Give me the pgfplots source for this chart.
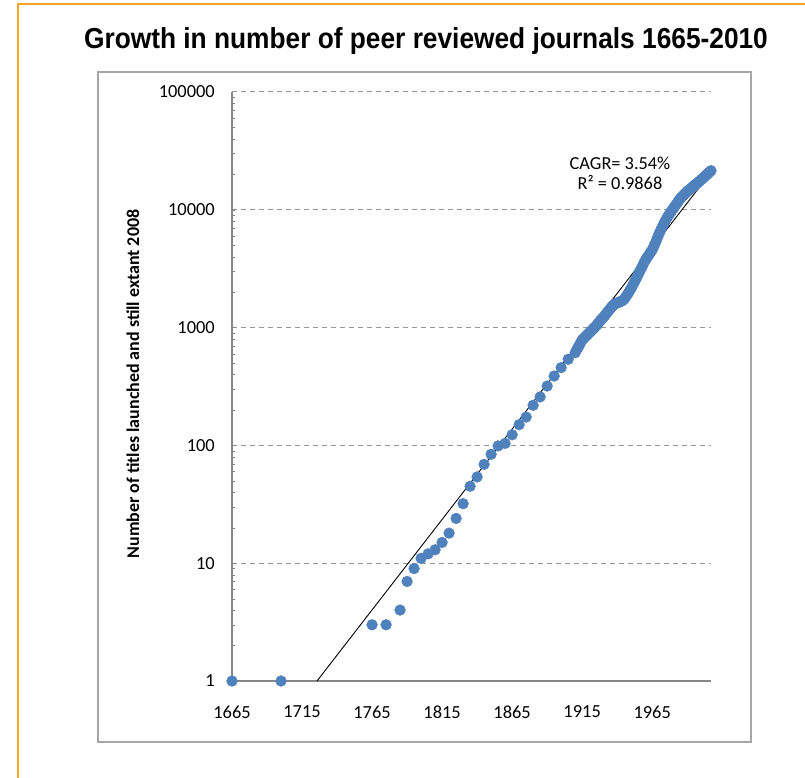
\documentclass[border=0pt]{standalone}
\usepackage{pgfplots}
\pgfplotsset{compat=1.18}
\usepackage{fontspec}
\setmainfont{Carlito}
\newfontfamily\titlefont{Liberation Sans}
\definecolor{excelblue}{RGB}{79,129,189}
\definecolor{framegray}{RGB}{166,166,166}
\definecolor{axisgray}{RGB}{134,134,134}
\definecolor{gridgray}{RGB}{150,150,150}
\definecolor{orangeframe}{RGB}{250,165,30}
\pgfplotstableread{
year n
1665 1
1700 1
1765 3
1775 3
1785 4
1790 7
1795 9
1800 11
1805 12
1810 13
1815 15
1820 18
1825 24
1830 32
1835 45
1840 54
1845 69
1850 84
1855 99
1860 104
1865 123
1870 150
1875 174
1880 219
1885 258
1890 319
1895 388
1900 457
1905 538
1910 612
1911 643
1912 676
1913 711
1914 748
1915 785
1916 807
1917 830
1918 853
1919 877
1920 902
1921 927
1922 953
1923 980
1924 1007
1925 1035
1926 1072
1927 1109
1928 1148
1929 1183
1930 1216
1931 1259
1932 1303
1933 1349
1934 1396
1935 1445
1936 1496
1937 1538
1938 1574
1939 1603
1940 1622
1941 1637
1942 1652
1943 1675
1944 1706
1945 1746
1946 1811
1947 1888
1948 1972
1949 2065
1950 2163
1951 2275
1952 2399
1953 2529
1954 2667
1955 2818
1956 2979
1957 3148
1958 3327
1959 3516
1960 3715
1961 3873
1962 4036
1963 4207
1964 4385
1965 4571
1966 4842
1967 5152
1968 5495
1969 5888
1970 6310
1971 6683
1972 7079
1973 7499
1974 7907
1975 8318
1976 8710
1977 9078
1978 9462
1979 9840
1980 10233
1981 10641
1982 11066
1983 11508
1984 11967
1985 12445
1986 12794
1987 13152
1988 13521
1989 13900
1990 14289
1991 14622
1992 14962
1993 15311
1994 15668
1995 16032
1996 16406
1997 16788
1998 17179
1999 17579
2000 17989
2001 18450
2002 18923
2003 19409
2004 19907
2005 20417
2006 20941
2007 21478
}\journals
\begin{document}
\begin{tikzpicture}[x=1bp,y=1bp]
\path[use as bounding box] (0,0) rectangle (805,778);
\fill[white] (0,0) rectangle (805,778);
\draw[orangeframe, line width=2bp] (18,0) -- (18,774) -- (805,774);
\draw[framegray, line width=1.5bp] (98,36) rectangle (751,706);
\node[font=\titlefont\bfseries\fontsize{29}{29}\selectfont, inner sep=0pt] at (426,737)
  {\scalebox{0.91}[1]{Growth in number of peer reviewed journals 1665-2010}};
\node[rotate=90, font=\bfseries\fontsize{18}{18}\selectfont, inner sep=0pt] at (133,394)
  {Number of titles launched and still extant 2008};
\node[align=center, font=\fontsize{18.4}{20}\selectfont, inner sep=0pt] at (620,605)
  {CAGR= 3.54\%\\R² = 0.9868};
\begin{axis}[
  at={(232bp,97bp)}, anchor=south west,
  scale only axis, width=479bp, height=589bp,
  xmin=1665, xmax=2007,
  ymode=log, ymin=1, ymax=100000,
  axis lines*=left,
  axis line style={axisgray, line width=1.5bp},
  xtick={1665,1715,1765,1815,1865,1915,1965},
  xticklabels={1665,1715,1765,1815,1865,1915,1965},
  ytick={1,10,100,1000,10000,100000},
  yticklabels={1,10,100,1000,10000,100000},
  major tick length=0pt,
  minor tick num=0,
  ymajorgrids,
  major grid style={gridgray, dash pattern=on 5bp off 4bp, line width=1bp},
  tick label style={font=\fontsize{18.5}{18.5}\selectfont},
  xticklabel style={anchor=center, inner sep=0pt, yshift=-31bp},
  yticklabel style={anchor=east, inner sep=0pt, xshift=-17bp},
  clip=false,
]
\addplot[only marks, mark=*, mark size=5.4bp, excelblue,
  mark options={draw=excelblue, fill=excelblue}] table[x=year, y=n] {\journals};
\addplot[black, line width=0.9bp] coordinates {(1725.7,1) (2006.4,20400)};
\end{axis}
\end{tikzpicture}
\end{document}
